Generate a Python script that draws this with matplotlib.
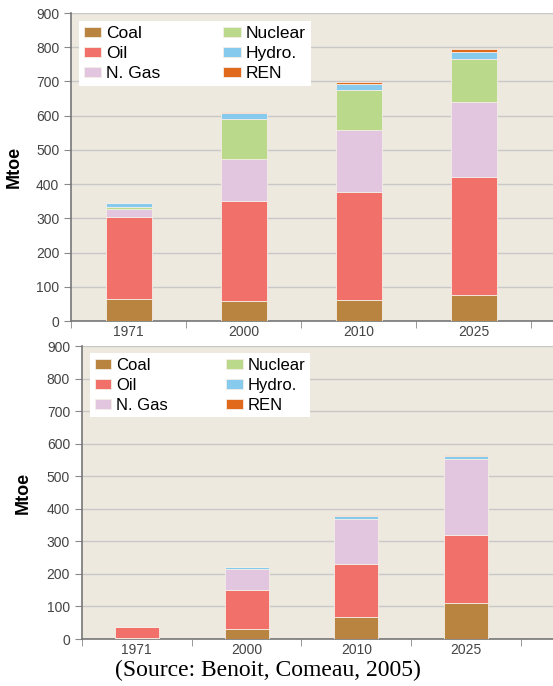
import numpy as np
import matplotlib.pyplot as plt

plt.rcParams['font.family'] = ['Liberation Sans', 'DejaVu Sans']

years = ['1971', '2000', '2010', '2025']
sources = ['Coal', 'Oil', 'N. Gas', 'Nuclear', 'Hydro.', 'REN']
colors = ['#B8843F', '#F2706A', '#E2C6DF', '#BBD98A', '#86CBEE', '#E0691C']

# top chart (Mtoe)
top_coal = [64, 58, 62, 77]
top_oil = [241, 294, 314, 343]
top_gas = [23, 122, 182, 221]
top_nuclear = [5, 117, 118, 124]
top_hydro = [11, 17, 16, 20]
top_ren = [0, 2, 6, 11]

# bottom chart (Mtoe)
bot_coal = [3, 31, 68, 112]
bot_oil = [33, 119, 161, 209]
bot_gas = [0, 66, 140, 231]
bot_nuclear = [0, 0, 0, 0]
bot_hydro = [0, 4, 9, 10]
bot_ren = [0, 0, 2, 4]

bg = '#EEE9DF'


def draw(ax, series, xmax, lab_x, leg_xy, leg_fs, colsp):
    x = np.arange(len(years))
    bottom = np.zeros(len(years))
    for vals, name, c in zip(series, sources, colors):
        ax.bar(x, vals, 0.4, bottom=bottom, color=c, label=name,
               edgecolor='#F4EEE6', linewidth=0.6, zorder=3)
        bottom += np.array(vals)
    ax.set_facecolor(bg)
    ax.set_xlim(-0.5, xmax)
    ax.set_ylim(0, 900)
    ax.set_yticks(range(0, 901, 100))
    ax.yaxis.grid(True, color='#C8C8C8', linewidth=1, zorder=0)
    ax.set_xticks(x)
    ax.set_xticklabels(years)
    ax.set_xticks(np.arange(-0.5, xmax, 1), minor=True)
    ax.tick_params(axis='x', which='major', length=0, labelsize=10,
                   labelcolor='#444444', pad=3)
    ax.tick_params(axis='x', which='minor', length=5, color='#888888')
    ax.tick_params(axis='y', length=5, color='#888888', labelsize=10,
                   labelcolor='#444444')
    for s in ['top', 'right']:
        ax.spines[s].set_visible(False)
    ax.spines['left'].set_color('#777777')
    ax.spines['bottom'].set_color('#777777')
    ax.spines['left'].set_linewidth(1.2)
    ax.spines['bottom'].set_linewidth(1.2)
    ax.set_ylabel('Mtoe', fontsize=13, fontweight='bold')
    ax.yaxis.set_label_coords(lab_x, 0.5)
    ax.legend(ncol=2, loc='upper left', bbox_to_anchor=leg_xy, borderaxespad=0,
              fontsize=leg_fs, frameon=True, facecolor='white', edgecolor='none',
              framealpha=1, fancybox=False, labelspacing=0.3,
              columnspacing=colsp, handlelength=1.0, handleheight=0.55,
              handletextpad=0.3, borderpad=0.28)


fig = plt.figure(figsize=(5.53, 6.86), dpi=100)
ax1 = fig.add_axes([0.1284, 0.532, 0.8716, 0.449])
ax2 = fig.add_axes([0.148, 0.0685, 0.852, 0.427])

draw(ax1, [top_coal, top_oil, top_gas, top_nuclear, top_hydro, top_ren], 3.69,
     -0.10, (0.0166, 0.974), 12.5, 3.6)
draw(ax2, [bot_coal, bot_oil, bot_gas, bot_nuclear, bot_hydro, bot_ren], 3.79,
     -0.106, (0.017, 0.976), 12, 3.5)

fig.text(0.485, 0.023, '(Source: Benoit, Comeau, 2005)', ha='center', va='center',
         fontsize=17, family='Liberation Serif')

fig.savefig('out.png', dpi=100)
